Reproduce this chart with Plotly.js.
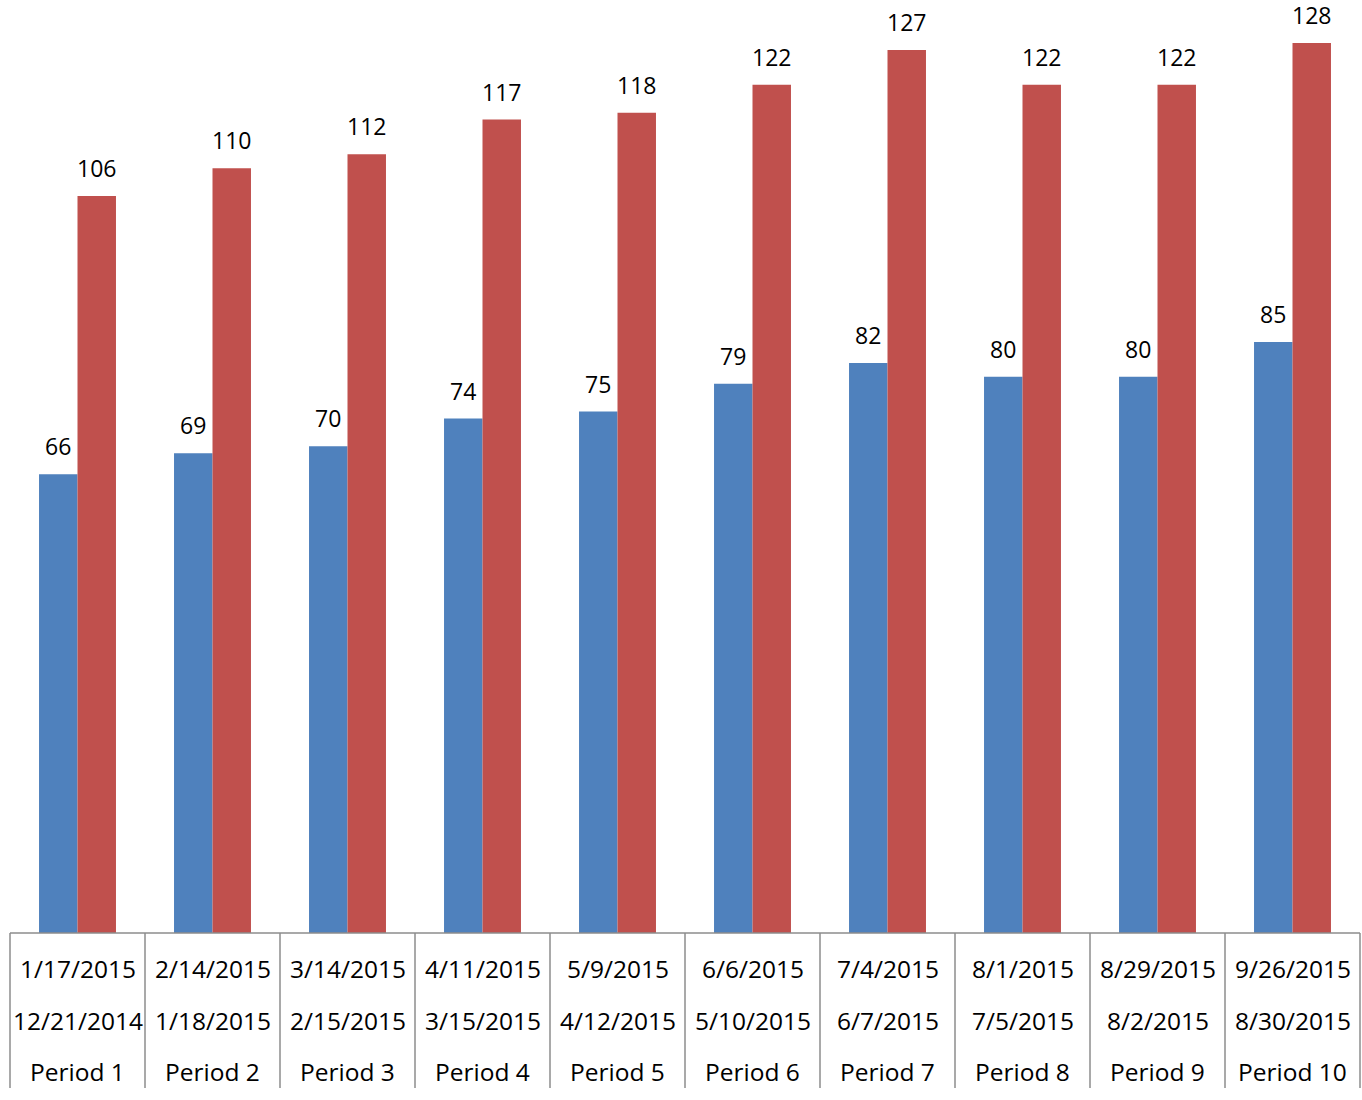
<!DOCTYPE html>
<html>
<head>
<meta charset="utf-8">
<script src="https://cdn.plot.ly/plotly-3.0.1.min.js"></script>
<style>html,body{margin:0;padding:0;background:#fff;}#chart{width:1362px;height:1100px;}</style>
</head>
<body>
<div id="chart"></div>
<script>
const periods = ["Period 1","Period 2","Period 3","Period 4","Period 5","Period 6","Period 7","Period 8","Period 9","Period 10"];
const startDates = ["12/21/2014","1/18/2015","2/15/2015","3/15/2015","4/12/2015","5/10/2015","6/7/2015","7/5/2015","8/2/2015","8/30/2015"];
const endDates = ["1/17/2015","2/14/2015","3/14/2015","4/11/2015","5/9/2015","6/6/2015","7/4/2015","8/1/2015","8/29/2015","9/26/2015"];
const blueValues = [66,69,70,74,75,79,82,80,80,85];
const redValues = [106,110,112,117,118,122,127,122,122,128];

const FONT = "Open Sans, Liberation Sans, sans-serif";
const FS = 23;
const FS_AXIS = 24.5;
const N = periods.length;
const W = 1362, H = 1100;
const margin = {l:10, r:2, t:0, b:167};
const plotW = W - margin.l - margin.r;
const catPx = plotW / N;
const bargap = 0.43;
const barPx = catPx * (1 - bargap) / 2;

const traces = [
  {type:'bar', x:periods, y:blueValues, marker:{color:'#4F81BD'}, hoverinfo:'none'},
  {type:'bar', x:periods, y:redValues, marker:{color:'#C0504D'}, hoverinfo:'none'}
];

const annotations = [];
const shapes = [];
periods.forEach((p,i)=>{
  annotations.push({x:p, xref:'x', y:blueValues[i], yref:'y', text:String(blueValues[i]), showarrow:false, xshift:-barPx/2, yanchor:'bottom', yshift:10, font:{family:FONT,size:FS,color:'#000'}});
  annotations.push({x:p, xref:'x', y:redValues[i], yref:'y', text:String(redValues[i]), showarrow:false, xshift:barPx/2, yanchor:'bottom', yshift:10, font:{family:FONT,size:FS,color:'#000'}});
  [[endDates[i],-35],[startDates[i],-87],[periods[i],-138]].forEach(([t,s])=>{
    annotations.push({x:p, xref:'x', y:0, yref:'paper', text:t, showarrow:false, yanchor:'middle', yshift:s, font:{family:FONT,size:FS_AXIS,color:'#000'}});
  });
});
for(let i=0;i<=N;i++){
  shapes.push({type:'line', xref:'paper', yref:'paper', x0:i/N, x1:i/N, y0:0, y1:-155/(H-margin.t-margin.b), line:{color:'#8c8c8c', width:1.5}});
}
shapes.push({type:'line', xref:'paper', yref:'paper', x0:0, x1:1, y0:0, y1:0, line:{color:'#8c8c8c', width:1.5}});

const layout = {
  width:W, height:H, margin:margin,
  paper_bgcolor:'#fff', plot_bgcolor:'#fff',
  showlegend:false, barmode:'group', bargap:bargap, bargroupgap:0,
  xaxis:{type:'category', showticklabels:false, showgrid:false, zeroline:false, showline:false, ticks:'', range:[-0.5, N-0.5]},
  yaxis:{range:[0,134.2], visible:false, showgrid:false, zeroline:false},
  annotations:annotations, shapes:shapes,
  font:{family:FONT}
};
Plotly.newPlot('chart', traces, layout, {staticPlot:true});
</script>
</body>
</html>
